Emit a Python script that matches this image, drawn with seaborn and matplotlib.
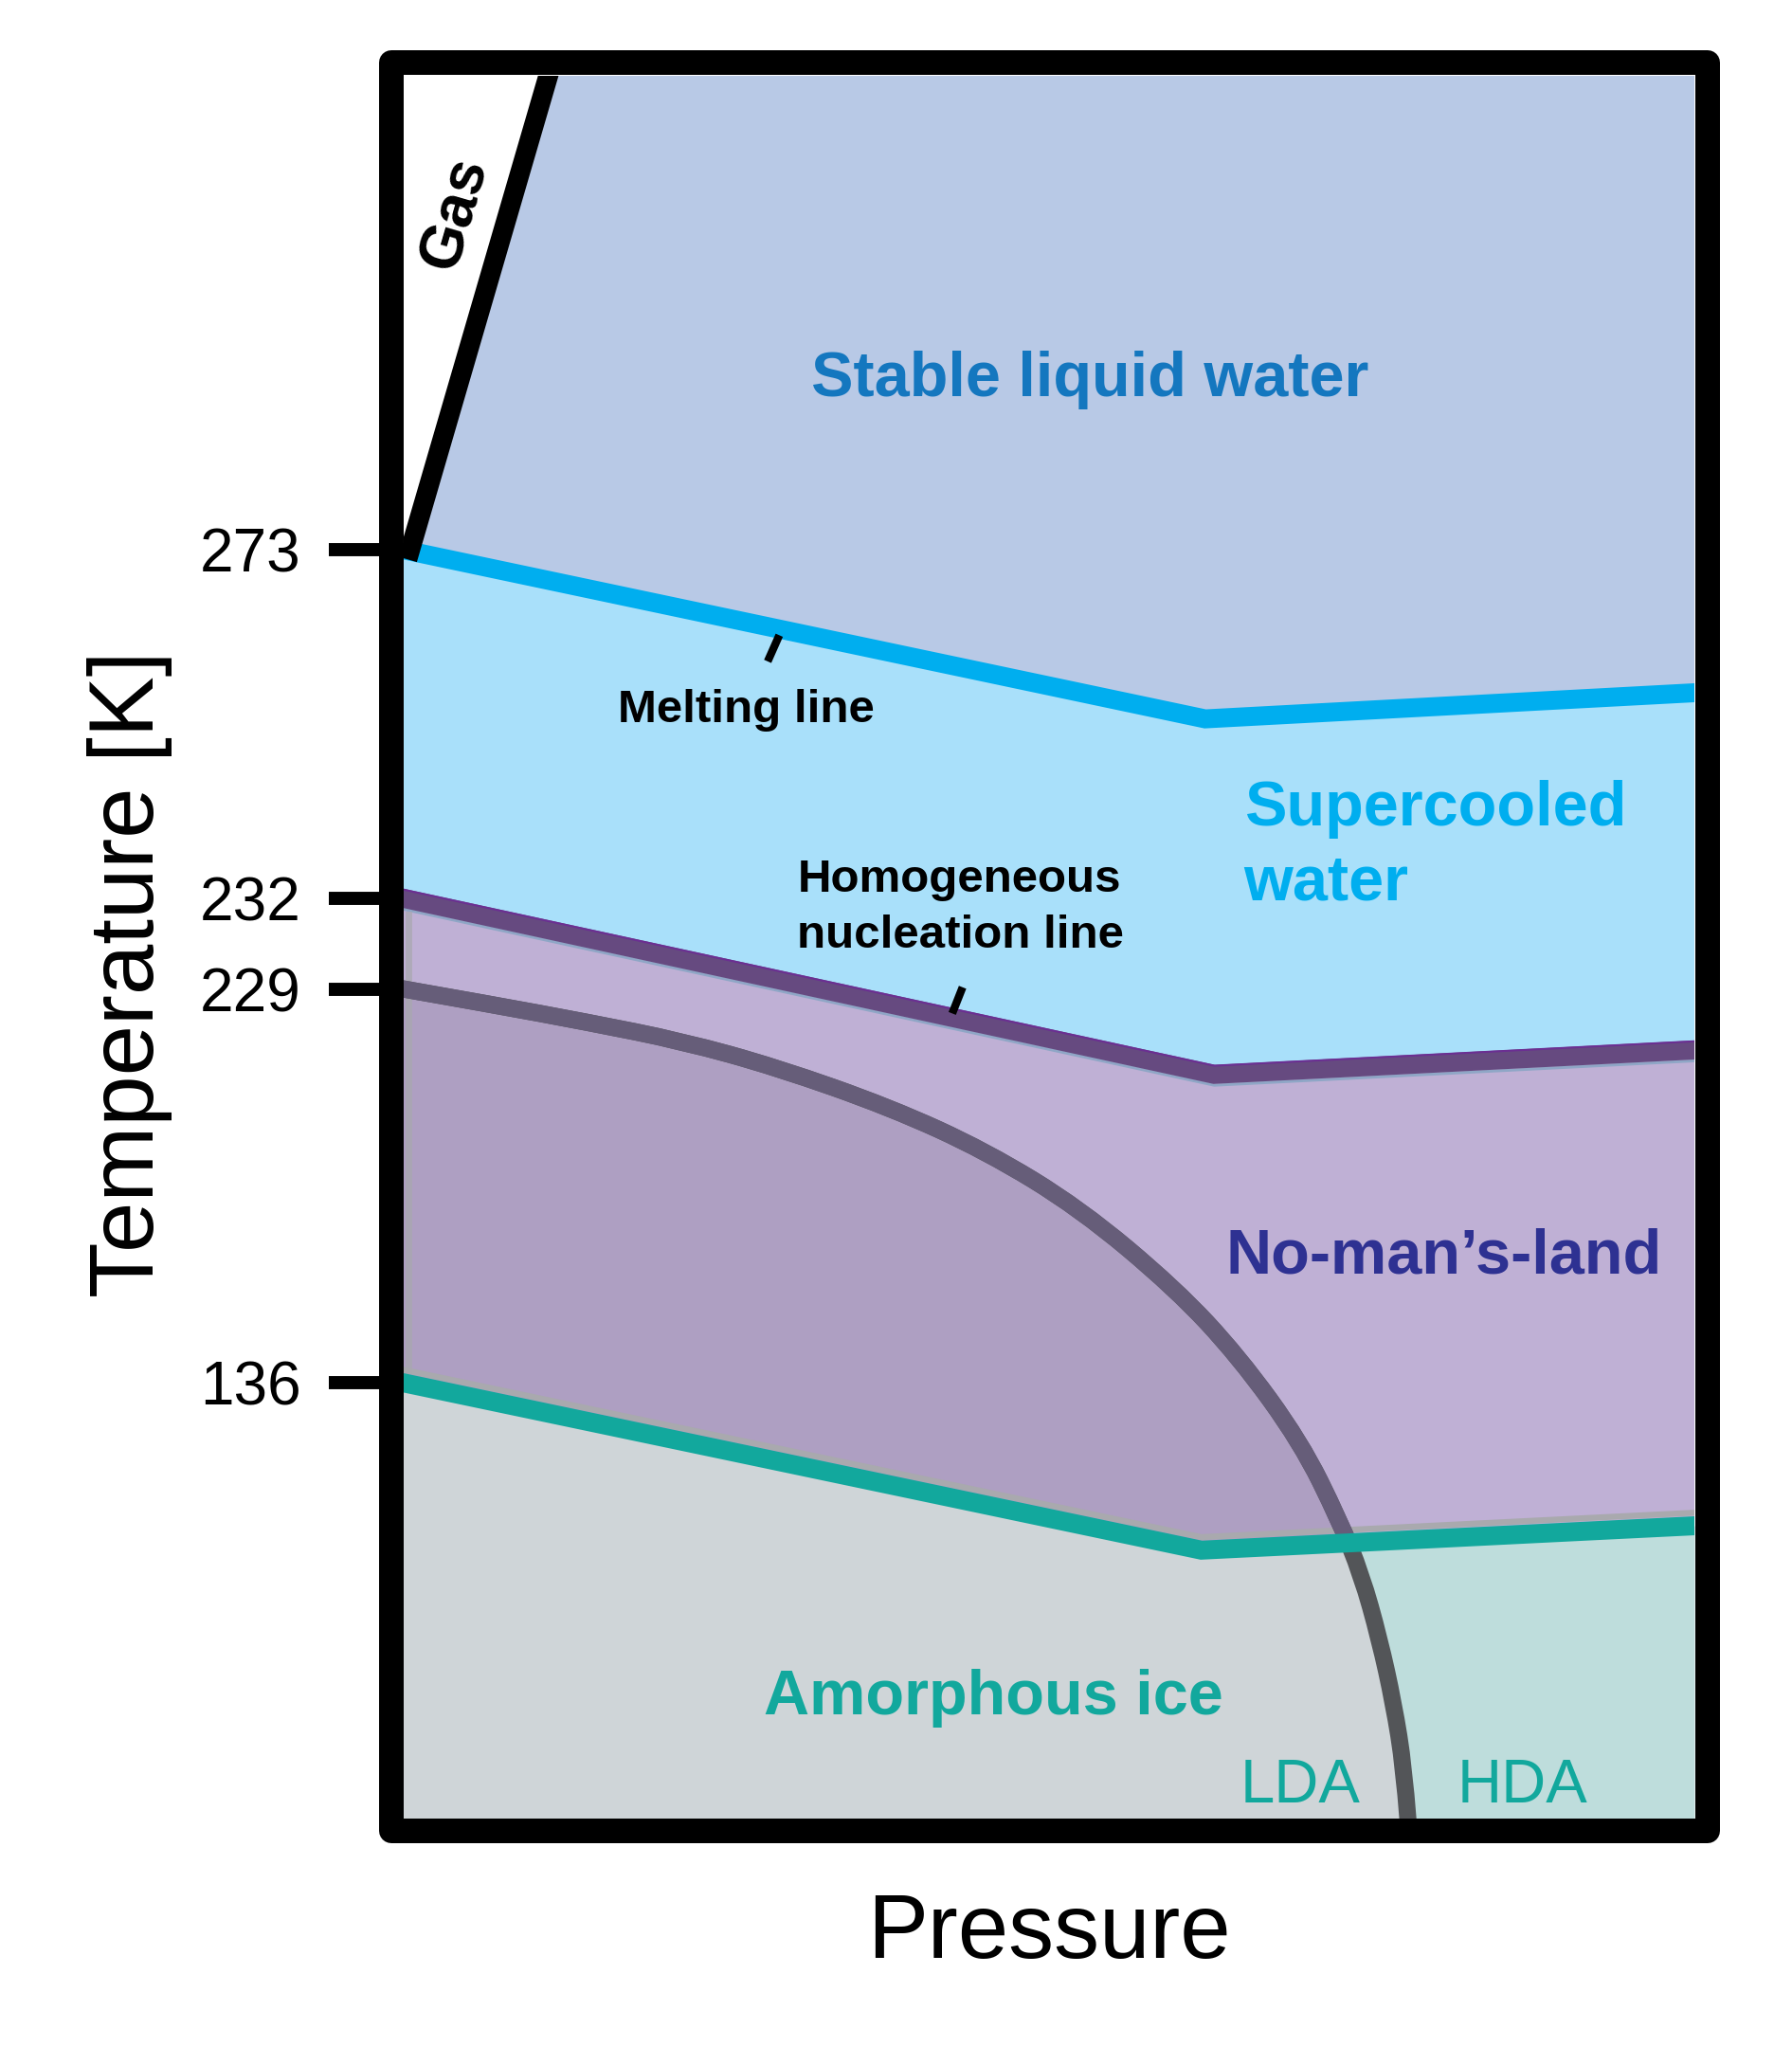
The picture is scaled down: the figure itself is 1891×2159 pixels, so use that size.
import numpy as np
import matplotlib
matplotlib.use("Agg")
import matplotlib.pyplot as plt
import seaborn as sns
from matplotlib.lines import Line2D
from matplotlib.path import Path
from matplotlib.patches import PathPatch

# schematic axes: pressure 0-100 across the box, temperature 0-100 up the box
tick_pos = [72.8, 52.8, 47.6, 25.0]
tick_labels = ["273", "232", "229", "136"]

gas_p = [0.5, 11.2]
gas_t = [72.8, 100.0]

melt_p = [0.0, 62.1, 100.0]
melt_t = [72.8, 63.1, 64.6]

homog_p = [0.0, 62.8, 100.0]
homog_t = [52.8, 42.7, 44.1]

glass_p = [0.0, 61.8, 100.0]
glass_t = [25.0, 15.4, 16.8]

# LDA / HDA boundary
lda_hda_p = [0.0, 6.9, 14.2, 21.6, 28.9, 37.7, 45.1, 52.4, 59.8, 64.7, 69.5, 72.5, 74.2, 75.6, 76.7, 77.5, 77.8]
lda_hda_t = [47.6, 46.7, 45.7, 44.6, 43.1, 40.8, 38.3, 35.0, 30.4, 26.5, 21.6, 17.1, 14.0, 10.3, 6.6, 2.9, 0.0]

# colours
c_stable = "#b8c9e6"
c_super = "#a9e0fa"
c_nml = "#bfb0d5"
c_inner = "#ae9fc2"
c_lda = "#cfd5d8"
c_hda = "#bedddc"
c_melt = "#00aeef"
c_homog = "#664a80"
c_glass = "#12a89d"


def smooth_path(px, py, close_to=None):
    # quadratic b-spline through the read points, drawn by matplotlib
    pts = np.column_stack([px, py])
    verts = [pts[0]]
    codes = [Path.MOVETO]
    for i in range(1, len(pts) - 1):
        end = pts[i + 1] if i == len(pts) - 2 else (pts[i] + pts[i + 1]) / 2
        verts += [pts[i], end]
        codes += [Path.CURVE3, Path.CURVE3]
    if close_to is not None:
        verts += [close_to, pts[0]]
        codes += [Path.LINETO, Path.CLOSEPOLY]
    return Path(verts, codes)


sns.set_theme(style="white")
plt.rcParams["font.family"] = ["Liberation Sans", "DejaVu Sans"]

W, H = 1891, 2159
fig = plt.figure(figsize=(W / 100, H / 100), dpi=100)
ax = fig.add_axes([426 / W, 1 - 1919 / H, 1362 / W, 1839 / H])
ax.set_xlim(0, 100)
ax.set_ylim(0, 100)

# regions
ax.fill_between(glass_p, glass_t, 0, color=c_hda, lw=0, zorder=1)
ax.add_patch(PathPatch(smooth_path(lda_hda_p, lda_hda_t, (0, 0)), fc=c_lda, lw=0, zorder=1))
nml = ax.fill(np.r_[homog_p, glass_p[::-1]], np.r_[homog_t, glass_t[::-1]],
              color=c_nml, lw=0, zorder=1)[0]
inner = ax.add_patch(PathPatch(smooth_path(lda_hda_p, lda_hda_t, (0, 0)),
                               fc=c_inner, lw=0, zorder=1))
inner.set_clip_path(nml)
ax.fill(np.r_[melt_p, homog_p[::-1]], np.r_[melt_t, homog_t[::-1]], color=c_super, lw=0, zorder=1)
ax.fill(np.r_[gas_p, 100, melt_p[::-1]], np.r_[gas_t, 100, melt_t[::-1]],
        color=c_stable, lw=0, zorder=1)

kw = dict(ax=ax, estimator=None, sort=False, legend=False,
          solid_capstyle="projecting", solid_joinstyle="miter")

# thin shading next to the lines
sns.lineplot(x=glass_p, y=np.array(glass_t) + 0.75, color="#a9a9ae", lw=4.5, **kw)
sns.lineplot(x=homog_p, y=np.array(homog_t) - 0.62, color="#8fa6c6", lw=2.2, **kw)
sns.lineplot(x=[0.4, 0.4], y=[homog_t[0] - 0.9, glass_t[0] + 0.7], color="#a8a8ae",
             lw=5, alpha=0.7, **kw)

# LDA/HDA line: darker below the glass line, purple-tinted inside no-man's-land
ax.add_patch(PathPatch(smooth_path(lda_hda_p, lda_hda_t), fill=False, ec="#535558",
                       lw=13, capstyle="projecting", joinstyle="round", zorder=2))
upper = ax.add_patch(PathPatch(smooth_path(lda_hda_p, lda_hda_t), fill=False, ec="#665d79",
                               lw=13, capstyle="projecting", joinstyle="round", zorder=2))
upper.set_clip_path(nml)

# phase boundaries
sns.lineplot(x=melt_p, y=melt_t, color=c_melt, lw=14.4, **kw)
sns.lineplot(x=homog_p, y=homog_t, color=c_homog, lw=14.4, **kw)
sns.lineplot(x=homog_p, y=np.array(homog_t) + 0.5, color="#6b2f92", lw=1.5, **kw)
sns.lineplot(x=glass_p, y=glass_t, color=c_glass, lw=14.4, **kw)
sns.lineplot(x=gas_p, y=gas_t, color="black", lw=15, **kw)

# pointers
ax.plot([28.2, 29.1], [66.4, 67.9], color="black", lw=6, solid_capstyle="butt")
ax.plot([42.5, 43.3], [46.2, 47.7], color="black", lw=6, solid_capstyle="butt")

# region labels
big = dict(fontsize=48, fontweight="bold", va="baseline", zorder=5)
ax.text(31.6, 81.6, "Stable liquid water", color="#1477bf", ha="left", **big)
ax.text(65.1, 57.0, "Supercooled", color=c_melt, ha="left", **big)
ax.text(65.1, 52.7, "water", color=c_melt, ha="left", **big)
ax.text(63.7, 31.3, "No-man\u2019s-land", color="#2e3192", ha="left", **big)
ax.text(63.5, 6.0, "Amorphous ice", color=c_glass, ha="right", **big)
ax.text(64.8, 0.92, "LDA", color=c_glass, fontsize=47, ha="left", va="baseline", zorder=5)
ax.text(81.6, 0.92, "HDA", color=c_glass, fontsize=47, ha="left", va="baseline", zorder=5)

small = dict(fontsize=35.5, fontweight="bold", color="black", ha="left", va="baseline", zorder=5)
ax.text(16.6, 62.9, "Melting line", **small)
ax.text(30.5, 53.2, "Homogeneous", **small)
ax.text(30.5, 50.0, "nucleation line", **small)
ax.text(4.0, 92.1, "Gas", fontsize=46, fontweight="bold", color="black",
        rotation=73.8, ha="center", va="center", zorder=5)

# axes
for s in ax.spines.values():
    s.set_visible(False)
ax.set_xticks([])
ax.set_yticks(tick_pos, tick_labels)
ax.tick_params(axis="y", left=True, direction="out", length=57, width=10,
               pad=21, labelsize=46, colors="black")
ax.text(-0.179, 0.4845, "Temperature [K]", transform=ax.transAxes, rotation=90,
        ha="right", va="center", fontsize=69, color="black")
ax.text(0.5, -0.080, "Pressure", transform=ax.transAxes, ha="center",
        va="baseline", fontsize=69, color="black")

# rounded frame
L, R, T, B = 413 / W, 1802 / W, 1 - 66 / H, 1 - 1932 / H
mx = (L + R) / 2
fig.add_artist(Line2D([mx, R, R, L, L, mx], [T, T, B, B, T, T], color="black",
                      lw=18.7, solid_joinstyle="round", solid_capstyle="butt", zorder=10))

fig.savefig("out.png", dpi=100)
